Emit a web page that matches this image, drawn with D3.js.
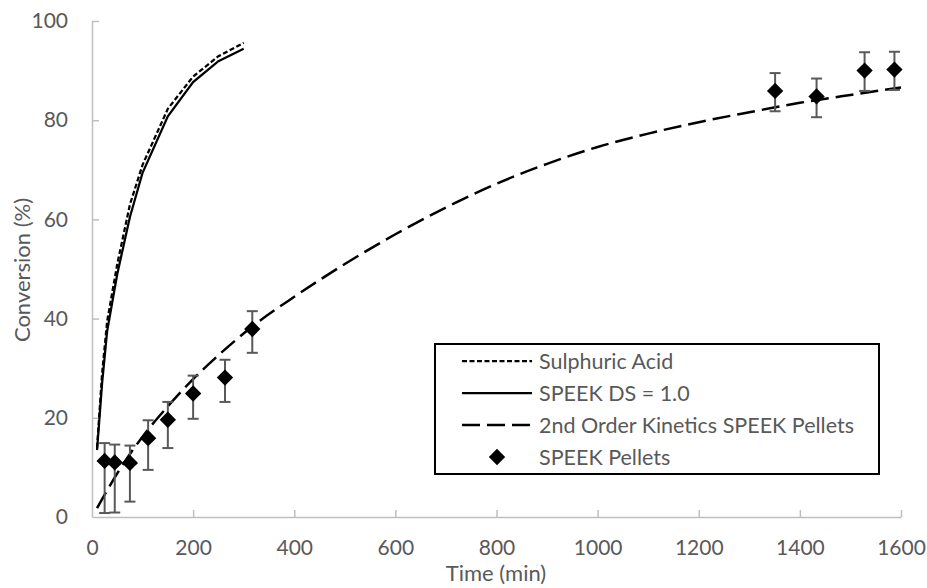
<!DOCTYPE html>
<html>
<head>
<meta charset="utf-8">
<script src="https://cdn.jsdelivr.net/npm/d3@7/dist/d3.min.js"></script>
<style>
  html, body { margin: 0; padding: 0; background: #fff; }
  svg { display: block; }
  text { font-family: Lato, "Open Sans", sans-serif; fill: #595959; }
</style>
</head>
<body>
<svg id="chart" width="927" height="588"></svg>
<script>
// ---- data ----
const xTicks = [0, 200, 400, 600, 800, 1000, 1200, 1400, 1600];
const yTicks = [0, 20, 40, 60, 80, 100];

const saTime = [10, 20, 30, 50, 75, 100, 150, 200, 250, 300];
const saConv = [14, 29, 39.5, 51, 63, 71, 82.3, 88.8, 92.9, 95.6];

const dsTime = [10, 20, 30, 50, 75, 100, 150, 200, 250, 300];
const dsConv = [13.5, 27, 37.5, 49, 60.5, 69.4, 80.8, 87.7, 91.9, 94.4];

const kinTime = [10, 50, 100, 150, 200, 250, 317, 400, 500, 600, 700, 800, 900, 1000, 1100, 1200, 1300, 1400, 1500, 1600];
const kinConv = [1.8, 8.8, 16.2, 22.3, 27.8, 32.6, 38.4, 44.4, 51, 57, 62.4, 67.2, 71.2, 74.6, 77.3, 79.6, 81.6, 83.5, 85.1, 86.6];

const pelTime = [25, 45, 75, 111, 150, 200, 263, 317, 1351, 1433, 1528, 1587];
const pelConv = [11.3, 11.0, 10.9, 15.9, 19.6, 24.9, 28.1, 37.9, 85.9, 84.8, 90.0, 90.2];
const pelHigh = [14.9, 14.6, 14.4, 19.5, 23.2, 28.5, 31.7, 41.5, 89.5, 88.4, 93.7, 93.8];
const pelLow  = [0.8, 0.9, 3.1, 9.5, 13.9, 19.8, 23.2, 33.1, 81.8, 80.6, 85.9, 86.1];

const legendLabels = ["Sulphuric Acid", "SPEEK DS = 1.0", "2nd Order Kinetics SPEEK Pellets", "SPEEK Pellets"];

// ---- layout ----
const svg = d3.select("#chart");
const x = d3.scaleLinear().domain([0, 1600]).range([92, 901]);
const y = d3.scaleLinear().domain([0, 100]).range([517, 21]);

const axisColor = "#bfbfbf";
const fmt = d3.format("d");

const gx = svg.append("g").attr("transform", `translate(0,${y(0)})`)
  .call(d3.axisBottom(x).tickValues(xTicks).tickFormat(fmt).tickSizeInner(-7).tickSizeOuter(0).tickPadding(23));
const gy = svg.append("g").attr("transform", `translate(${x(0)},0)`)
  .call(d3.axisLeft(y).tickValues(yTicks).tickFormat(fmt).tickSizeInner(-7).tickSizeOuter(0).tickPadding(24));
[gx, gy].forEach(g => {
  g.select(".domain").attr("stroke", axisColor).attr("stroke-width", 1.5);
  g.selectAll(".tick line").attr("stroke", axisColor).attr("stroke-width", 1.5);
  g.selectAll(".tick text").attr("fill", "#595959").style("font-size", "21px")
    .style("font-family", "Lato, 'Open Sans', sans-serif");
});
gy.selectAll(".tick").filter(d => d === 0).select("line").remove();
gx.selectAll(".tick").filter(d => d === 0).select("line").remove();

// axis titles
svg.append("text").attr("x", 496).attr("y", 581).attr("text-anchor", "middle")
  .style("font-size", "22px").text("Time (min)");
svg.append("text").attr("transform", "translate(30,270) rotate(-90)").attr("text-anchor", "middle")
  .style("font-size", "22px").text("Conversion (%)");

// lines
const line = d3.line().x(d => x(d[0])).y(d => y(d[1]));
const smooth = d3.line().x(d => x(d[0])).y(d => y(d[1])).curve(d3.curveMonotoneX);

const styles = {
  sa:  { dash: "5,2.5", width: 2.25 },
  ds:  { dash: null, width: 2.25 },
  kin: { dash: "18,7", width: 2.5 }
};

svg.append("path").datum(kinTime.map((t, i) => [t, kinConv[i]]))
  .attr("d", smooth).attr("fill", "none").attr("stroke", "#000")
  .attr("stroke-width", styles.kin.width).attr("stroke-dasharray", styles.kin.dash);
svg.append("path").datum(dsTime.map((t, i) => [t, dsConv[i]]))
  .attr("d", line).attr("fill", "none").attr("stroke", "#000")
  .attr("stroke-width", styles.ds.width);
svg.append("path").datum(saTime.map((t, i) => [t, saConv[i]]))
  .attr("d", line).attr("fill", "none").attr("stroke", "#000")
  .attr("stroke-width", styles.sa.width).attr("stroke-dasharray", styles.sa.dash);

// error bars
const pel = pelTime.map((t, i) => ({ t, c: pelConv[i], hi: pelHigh[i], lo: pelLow[i] }));
const eb = svg.append("g").attr("stroke", "#595959").attr("stroke-width", 2);
pel.forEach(p => {
  eb.append("line").attr("x1", x(p.t)).attr("x2", x(p.t)).attr("y1", y(p.hi)).attr("y2", y(p.lo));
  eb.append("line").attr("x1", x(p.t) - 5.5).attr("x2", x(p.t) + 5.5).attr("y1", y(p.hi)).attr("y2", y(p.hi));
  eb.append("line").attr("x1", x(p.t) - 5.5).attr("x2", x(p.t) + 5.5).attr("y1", y(p.lo)).attr("y2", y(p.lo));
});

const diamond = d3.symbol().type(d3.symbolDiamond2).size(170);
svg.append("g").selectAll("path").data(pel).join("path")
  .attr("transform", d => `translate(${x(d.t)},${y(d.c)})`)
  .attr("d", diamond).attr("fill", "#000");

// legend
const lg = svg.append("g");
lg.append("rect").attr("x", 435).attr("y", 344).attr("width", 444).attr("height", 130)
  .attr("fill", "#fff").attr("stroke", "#000").attr("stroke-width", 2);
const rowY = [361, 393, 425, 457];
const keys = ["sa", "ds", "kin"];
keys.forEach((k, i) => {
  const l = lg.append("line").attr("x1", 462).attr("x2", 532).attr("y1", rowY[i]).attr("y2", rowY[i])
    .attr("stroke", "#000").attr("stroke-width", styles[k].width);
  if (styles[k].dash) l.attr("stroke-dasharray", styles[k].dash);
});
lg.append("path").attr("transform", `translate(497,${rowY[3]})`).attr("d", diamond).attr("fill", "#000");
legendLabels.forEach((t, i) => {
  lg.append("text").attr("x", 539).attr("y", rowY[i]).attr("dy", "0.35em")
    .style("font-size", "21.5px").text(t);
});
</script>
</body>
</html>
